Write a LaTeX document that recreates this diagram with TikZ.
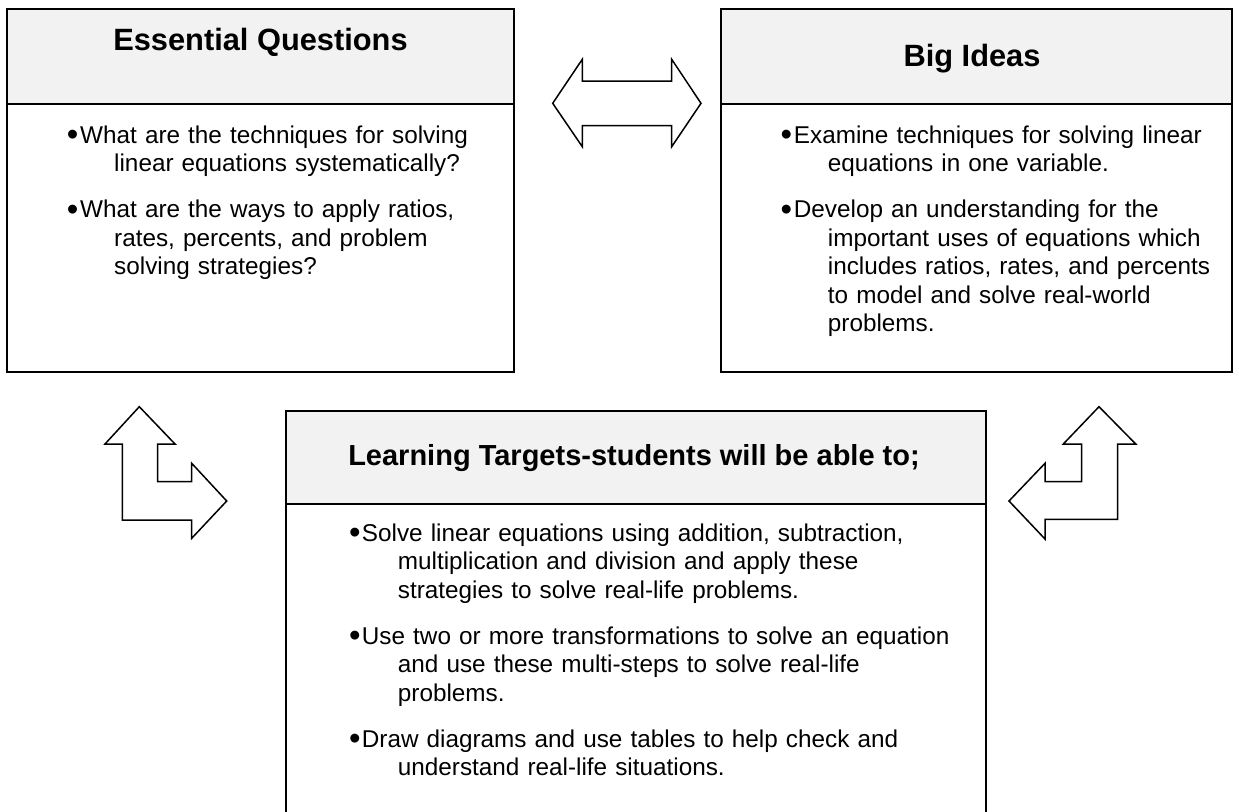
\documentclass[tikz,border=0pt]{standalone}
\usepackage{fontspec}
\setmainfont{Liberation Sans}
\definecolor{hdrgray}{HTML}{F2F2F2}
\newcommand{\bigbullet}{\raisebox{-2.6pt}{\scalebox{1.35}{\textbullet}}}
\newcommand{\bitem}[3]{\hangindent=#2\hangafter=1\noindent\makebox[#1][c]{\bigbullet}#3\par}
\newcommand{\nl}{\hfil\break}
\tikzset{
  frame/.style={draw=black, line width=2pt},
  hdrbox/.style={frame, fill=hdrgray},
  bigarrow/.style={draw=black, line width=1.5pt, fill=white, line join=miter},
  ttl/.style={inner sep=0pt, font=\bfseries\fontsize{30.8}{36}\selectfont},
  ttlsmall/.style={inner sep=0pt, font=\bfseries\fontsize{29}{34}\selectfont},
  bodytext/.style={inner sep=0pt, anchor=base west, text width=#1,
    font=\fontsize{24.3}{28.5}\selectfont},
}
\begin{document}
\begin{tikzpicture}[x=1pt, y=-1pt]
\useasboundingbox (0,0) rectangle (1239,811);

% Essential Questions box
\draw[hdrbox] (7,9) rectangle (514,104);
\draw[frame] (7,104) rectangle (514,372);
\node[ttl, anchor=base] (eqt) at (260.5,50) {Essential Questions};
\node[bodytext=440pt] (eqb) at (65,143) {\setlength{\parskip}{17.5pt}%
  \bitem{15pt}{49pt}{What are the techniques for solving\nl linear equations systematically?}%
  \bitem{15pt}{49pt}{What are the ways to apply ratios,\nl rates, percents, and problem\nl solving strategies?}};

% Big Ideas box
\draw[hdrbox] (720.7,9) rectangle (1232,104);
\draw[frame] (720.7,104) rectangle (1232,372);
\node[ttl, anchor=base] (bit) at (972,66) {Big Ideas};
\node[bodytext=440pt] (bib) at (778.7,143) {\setlength{\parskip}{17.5pt}%
  \bitem{15pt}{49pt}{Examine techniques for solving linear\nl equations in one variable.}%
  \bitem{15pt}{49pt}{Develop an understanding for the\nl important uses of equations which\nl includes ratios, rates, and percents\nl to model and solve real-world\nl problems.}};

% Learning Targets box
\draw[hdrbox] (285.7,410.7) rectangle (985.7,504);
\draw[frame] (285.7,830) -- (285.7,504) -- (985.7,504) -- (985.7,830);
\node[ttlsmall, anchor=base] (ltt) at (634,465) {Learning Targets-students will be able to;};
\node[bodytext=630pt] (ltb) at (347.7,541) {\setlength{\parskip}{17.5pt}%
  \bitem{14pt}{50pt}{Solve linear equations using addition, subtraction,\nl multiplication and division and apply these\nl strategies to solve real-life problems.}%
  \bitem{14pt}{50pt}{Use two or more transformations to solve an equation\nl and use these multi-steps to solve real-life\nl problems.}%
  \bitem{14pt}{50pt}{Draw diagrams and use tables to help check and\nl understand real-life situations.}};

% double arrow between top boxes
\draw[bigarrow] (552.7,103.3) -- (582.3,59.3) -- (582.3,81) -- (671.7,81)
  -- (671.7,59.3) -- (701,103.3) -- (671.7,146.7) -- (671.7,125.7)
  -- (582.3,125.7) -- (582.3,146.7) -- cycle;

% left L-shaped arrow (up and right)
\draw[bigarrow] (139.3,406.7) -- (175,444) -- (157.7,444) -- (157.7,481.7)
  -- (191.7,481.7) -- (191.7,463.3) -- (226.7,501) -- (191.7,538.3)
  -- (191.7,520) -- (122.3,520) -- (122.3,444) -- (105,444) -- cycle;

% right L-shaped arrow (up and left)
\draw[bigarrow] (1099,406.7) -- (1135.7,444) -- (1117.7,444) -- (1117.7,519.3)
  -- (1045,519.3) -- (1045,539) -- (1009,501) -- (1045,463.3)
  -- (1045,481.7) -- (1081.7,481.7) -- (1081.7,444) -- (1063.3,444) -- cycle;
\end{tikzpicture}
\end{document}
